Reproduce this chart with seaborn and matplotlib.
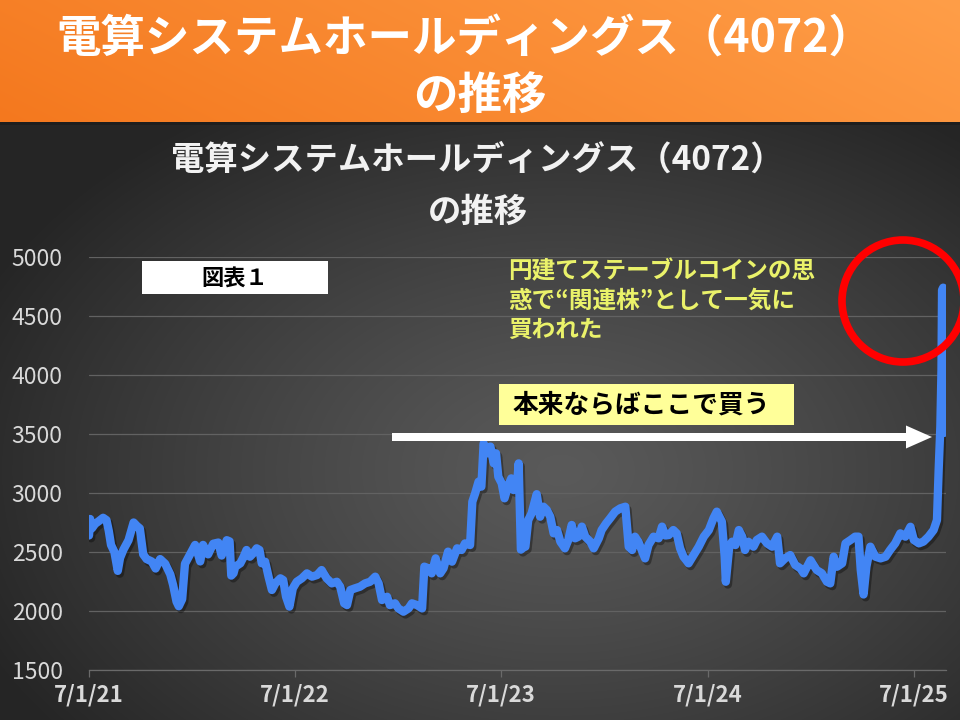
import numpy as np
import pandas as pd
import matplotlib
matplotlib.use('Agg')
import matplotlib.pyplot as plt
import matplotlib.patheffects as pe
from matplotlib.patches import Rectangle, Circle, FancyArrow
from matplotlib.ticker import FuncFormatter
import matplotlib.dates as mdates
import seaborn as sns

sns.set_theme(style='dark')
plt.rcParams['font.family'] = ['Noto Sans CJK JP', 'DejaVu Sans']

# ---------------- data ----------------
title_main = '電算システムホールディングス（4072）'
title_sub = 'の推移'
start_date = '2021-07-01'
# days since 2021-07-01
days = [0, 2, 5, 11, 17, 25, 31, 35, 39, 45, 51, 55, 61, 70, 79, 85, 90, 96, 102, 111,
        118, 126, 135, 144, 149, 155, 159, 165, 170, 179, 188, 197, 202, 211, 220, 229, 235, 244, 249, 252,
        256, 259, 268, 274, 279, 285, 291, 297, 302, 306, 312, 318, 324, 330, 339, 344, 349, 355, 361, 368,
        377, 386, 395, 404, 412, 421, 430, 439, 445, 452, 457, 463, 471, 480, 489, 498, 504,
        507, 513, 519, 528, 533, 542, 548, 557, 566, 572, 581, 590, 594, 601, 607, 614, 622, 628, 636,
        643, 652, 660, 666, 675, 679, 684, 690, 695, 699, 705, 711, 717, 721, 725, 731, 736, 742, 748,
        752, 758, 761, 765,
        770, 773, 778, 784, 793, 799, 805, 811, 817, 823, 829, 835, 843, 849, 855, 861, 867, 873, 879,
        888, 894, 903, 908, 916, 923, 932, 941, 950, 956, 962, 967, 973, 979, 985, 991, 1000, 1009, 1015,
        1021, 1027, 1035, 1041, 1047, 1053, 1062, 1071, 1080, 1089, 1098, 1106, 1112, 1121, 1126, 1128,
        1134, 1139, 1145, 1151, 1157, 1162, 1168, 1177, 1183, 1192, 1201, 1210, 1219, 1224, 1233, 1242,
        1251, 1260, 1266, 1272, 1278,
        1289, 1298, 1307, 1313, 1319, 1325, 1334, 1340, 1349, 1357, 1363, 1367, 1372, 1377, 1384, 1393,
        1402, 1411, 1419, 1428, 1437, 1446, 1455, 1461, 1470, 1478, 1487, 1496, 1502, 1505, 1508, 1510,
        1511, 1513, 1515]
prices = [2640, 2780, 2700, 2740, 2760, 2790, 2770, 2680, 2560, 2500, 2340, 2450, 2520, 2600, 2750, 2720, 2700, 2480, 2440, 2420,
          2360, 2440, 2400, 2310, 2220, 2080, 2040, 2100, 2400, 2480, 2560, 2420, 2560, 2480, 2570, 2580, 2470, 2600, 2590, 2300,
          2320, 2375, 2404, 2460, 2517, 2460, 2490, 2531, 2517, 2404, 2418, 2291, 2178, 2234, 2277, 2262, 2121, 2037, 2192, 2248,
          2277, 2319, 2291, 2305, 2347, 2277, 2234, 2248, 2206, 2065, 2050, 2178, 2192, 2206, 2234, 2248, 2277,
          2291, 2234, 2093, 2121, 2050, 2065, 2022, 1994, 2022, 2065, 2050, 2022, 2376, 2362, 2319, 2446, 2319, 2362, 2503,
          2418, 2531, 2517, 2573, 2559, 2926, 2997, 3096, 3054, 3420, 3336, 3393, 3251, 3336, 3138, 3082, 2955, 3054, 3124,
          3025, 3054, 3251, 2520,
          2540, 2545, 2771, 2828, 2990, 2799, 2884, 2856, 2799, 2658, 2686, 2587, 2531, 2602, 2729, 2616, 2630, 2715, 2630,
          2587, 2531, 2616, 2686, 2743, 2785, 2842, 2870, 2884, 2545, 2517, 2630, 2588, 2517, 2446, 2559, 2630, 2616, 2715,
          2640, 2644, 2686, 2658, 2531, 2460, 2404, 2474, 2545, 2630, 2686, 2785, 2842, 2757, 2460, 2248,
          2545, 2587, 2559, 2686, 2630, 2517, 2587, 2545, 2602, 2630, 2573, 2545, 2630, 2404, 2446, 2474,
          2390, 2361, 2319, 2376, 2430,
          2347, 2320, 2248, 2234, 2460, 2375, 2404, 2573, 2602, 2630, 2630, 2347, 2140, 2376, 2545, 2460,
          2446, 2460, 2517, 2573, 2658, 2630, 2714, 2602, 2573, 2588, 2630, 2686, 2771, 3195, 3562, 4042,
          4720, 4740, 3510]
y_ticks = [1500, 2000, 2500, 3000, 3500, 4000, 4500, 5000]
x_ticks = ['2021-07-01', '2022-07-01', '2023-07-01', '2024-07-01', '2025-07-01']
x_end = '2025-08-27'
label_fig = '図表１'
label_note = '円建てステーブルコインの思\n惑で“関連株”として一気に\n買われた'
label_buy = '本来ならばここで買う'

start = pd.Timestamp(start_date)
df = pd.DataFrame({'date': start + pd.to_timedelta(days, unit='D'), 'price': prices})

# ---------------- figure & background ----------------
W, H = 960, 720
fig = plt.figure(figsize=(W / 100, H / 100), dpi=100)

bg = fig.add_axes([0, 0, 1, 1], zorder=0)
bg.set_axis_off()
yy, xx = np.mgrid[0:H, 0:W]
r = np.sqrt(((xx - 560) / 640.0) ** 2 + ((yy - 470) / 430.0) ** 2)
t = np.clip(r, 0, 1)[..., None] ** 1.2
c_in = np.array([0x5a, 0x5a, 0x5a]) / 255
c_out = np.array([0x25, 0x25, 0x25]) / 255
img = c_in + (c_out - c_in) * t
bh = 122
u = (xx[:bh] / W * 0.8 + (bh - yy[:bh]) / bh * 0.2)[..., None]
o_left = np.array([244, 120, 30]) / 255
o_right = np.array([255, 158, 72]) / 255
img[:bh] = o_left + (o_right - o_left) * u
img[bh:bh + 3] = np.array([0.12, 0.12, 0.12])
bg.imshow(img, extent=[0, 1, 0, 1], aspect='auto', origin='upper', interpolation='bilinear')
bg.set_xlim(0, 1)
bg.set_ylim(0, 1)

# banner title
fig.text(465 / W, 1 - 40 / H, title_main, ha='center', va='center', color='white',
         fontsize=32, fontweight='bold')
fig.text(0.5, 1 - 97 / H, title_sub, ha='center', va='center', color='white',
         fontsize=32, fontweight='bold')
# chart title
fig.text(477 / W, 1 - 160 / H, title_main, ha='center', va='center', color='#f2f2f2',
         fontsize=24, fontweight='bold')
fig.text(478 / W, 1 - 212 / H, title_sub, ha='center', va='center', color='#f2f2f2',
         fontsize=24, fontweight='bold')

# ---------------- main axes ----------------
ax = fig.add_axes([89 / W, 50 / H, 857 / W, 413 / H], zorder=2)
ax.set_facecolor('none')
sns.lineplot(data=df, x='date', y='price', ax=ax, color='#4285F4', linewidth=6,
             solid_capstyle='round', solid_joinstyle='round',
             path_effects=[pe.SimpleLineShadow(offset=(1.5, -2), shadow_color='black', alpha=0.35),
                           pe.Normal()])
ax.set_ylim(y_ticks[0], y_ticks[-1])
ax.set_yticks(y_ticks)
ax.set_xlim(start, pd.Timestamp(x_end))
ax.set_xticks(pd.to_datetime(x_ticks))
ax.xaxis.set_major_formatter(FuncFormatter(
    lambda v, p: (lambda d: f'{d.month}/{d.day}/{d.year % 100:02d}')(mdates.num2date(v))))
ax.set_xlabel('')
ax.set_ylabel('')
ax.grid(axis='y', color='#626262', linewidth=0.9)
ax.grid(axis='x', visible=False)
for s in ['top', 'right', 'left']:
    ax.spines[s].set_visible(False)
ax.spines['bottom'].set_color('#6a6a6a')
ax.spines['bottom'].set_linewidth(0.9)
ax.tick_params(axis='y', length=0, pad=19, labelsize=16.5, labelcolor='#d9d9d9')
ax.tick_params(axis='x', length=5, width=0.9, color='#6a6a6a', direction='out', pad=5,
               labelsize=16, labelcolor='#d9d9d9', bottom=True)
for lb in ax.get_xticklabels():
    lb.set_fontweight('bold')

# ---------------- overlay annotations (pixel coordinates) ----------------
ov = fig.add_axes([0, 0, 1, 1], zorder=5)
ov.set_xlim(0, W)
ov.set_ylim(H, 0)
ov.set_axis_off()
ov.patch.set_alpha(0)

ov.add_patch(Rectangle((142, 261), 186, 33, facecolor='white', edgecolor='none'))
ov.text(235, 278, label_fig, ha='center', va='center', color='black', fontsize=16, fontweight='bold')

ov.text(508, 259, label_note, ha='left', va='top', color='#EAF26A', fontsize=17,
        fontweight='bold', linespacing=1.3)

ov.add_patch(Rectangle((499, 384), 295, 41, facecolor='#FFFF99', edgecolor='none'))
ov.text(641, 405, label_buy, ha='center', va='center', color='black', fontsize=18.5, fontweight='bold')

ov.add_patch(FancyArrow(392, 437, 540, 0, width=8, head_width=23, head_length=26,
                        length_includes_head=True, facecolor='white', edgecolor='none'))

ov.add_patch(Circle((903, 301), 61, facecolor='none', edgecolor='#FF0000', linewidth=5.5))

fig.savefig('out.png', dpi=100)
